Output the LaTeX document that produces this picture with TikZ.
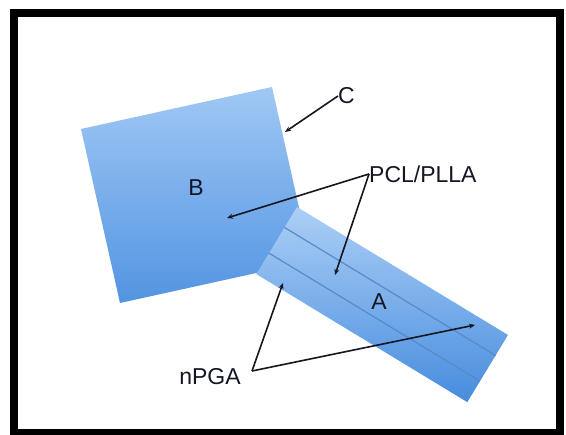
\documentclass[tikz,border=0pt]{standalone}
\usepackage{fontspec}
\setmainfont{Liberation Sans}
\usetikzlibrary{arrows.meta}
\definecolor{sqtop}{RGB}{160,200,244}
\definecolor{sqbot}{RGB}{82,148,226}
\definecolor{bartop}{RGB}{172,207,246}
\definecolor{barbot}{RGB}{70,140,222}
\definecolor{stripe}{RGB}{88,138,200}
\definecolor{ink}{RGB}{20,22,35}
\tikzset{
  lbl/.style={inner sep=0pt, font=\fontsize{23}{26}\selectfont, text=ink},
  ptr/.style={draw=ink, line width=1.6pt, -{Stealth[length=6pt,width=5pt]}},
}
\begin{document}
\begin{tikzpicture}[x=1pt,y=1pt]
\useasboundingbox (0,0) rectangle (566,435);
\fill[white] (0,0) rectangle (566,435);
% square B
\shade[top color=sqtop, bottom color=sqbot] (81,306) -- (272,348) -- (311,174) -- (120,132) -- cycle;
% bar A
\begin{scope}[shift={(297,228)}, rotate=-31.24]
  \shade[top color=bartop, bottom color=barbot] (0,0) rectangle (246.8,-78.5);
  \draw[stripe, line width=1.2pt] (0,-24) -- (246.8,-24);
  \draw[stripe, line width=1.2pt] (0,-54) -- (246.8,-54);
\end{scope}
% frame
\draw[black, line width=8pt] (14,2) rectangle (560,422);
% labels
\node[lbl] (B) at (196,247) {B};
\node[lbl] (A) at (379,133) {A};
\node[lbl, anchor=west] (C) at (338,339) {C};
\node[lbl, anchor=west] (pcl) at (369,261) {PCL/PLLA};
\node[lbl] (npga) at (210,58) {nPGA};
% pointer vertices and targets
\coordinate (nv) at (252,64);
\coordinate (ct) at (285,303);
\coordinate (pb) at (227,217);
\coordinate (pa) at (335,160);
\coordinate (na) at (283,152);
\coordinate (nb) at (475,110);
\draw[ptr] (C.west) -- (ct);
\draw[ptr] (pcl.west) -- (pb);
\draw[ptr] (pcl.west) -- (pa);
\draw[ptr] (nv) -- (na);
\draw[ptr] (nv) -- (nb);
\end{tikzpicture}
\end{document}
